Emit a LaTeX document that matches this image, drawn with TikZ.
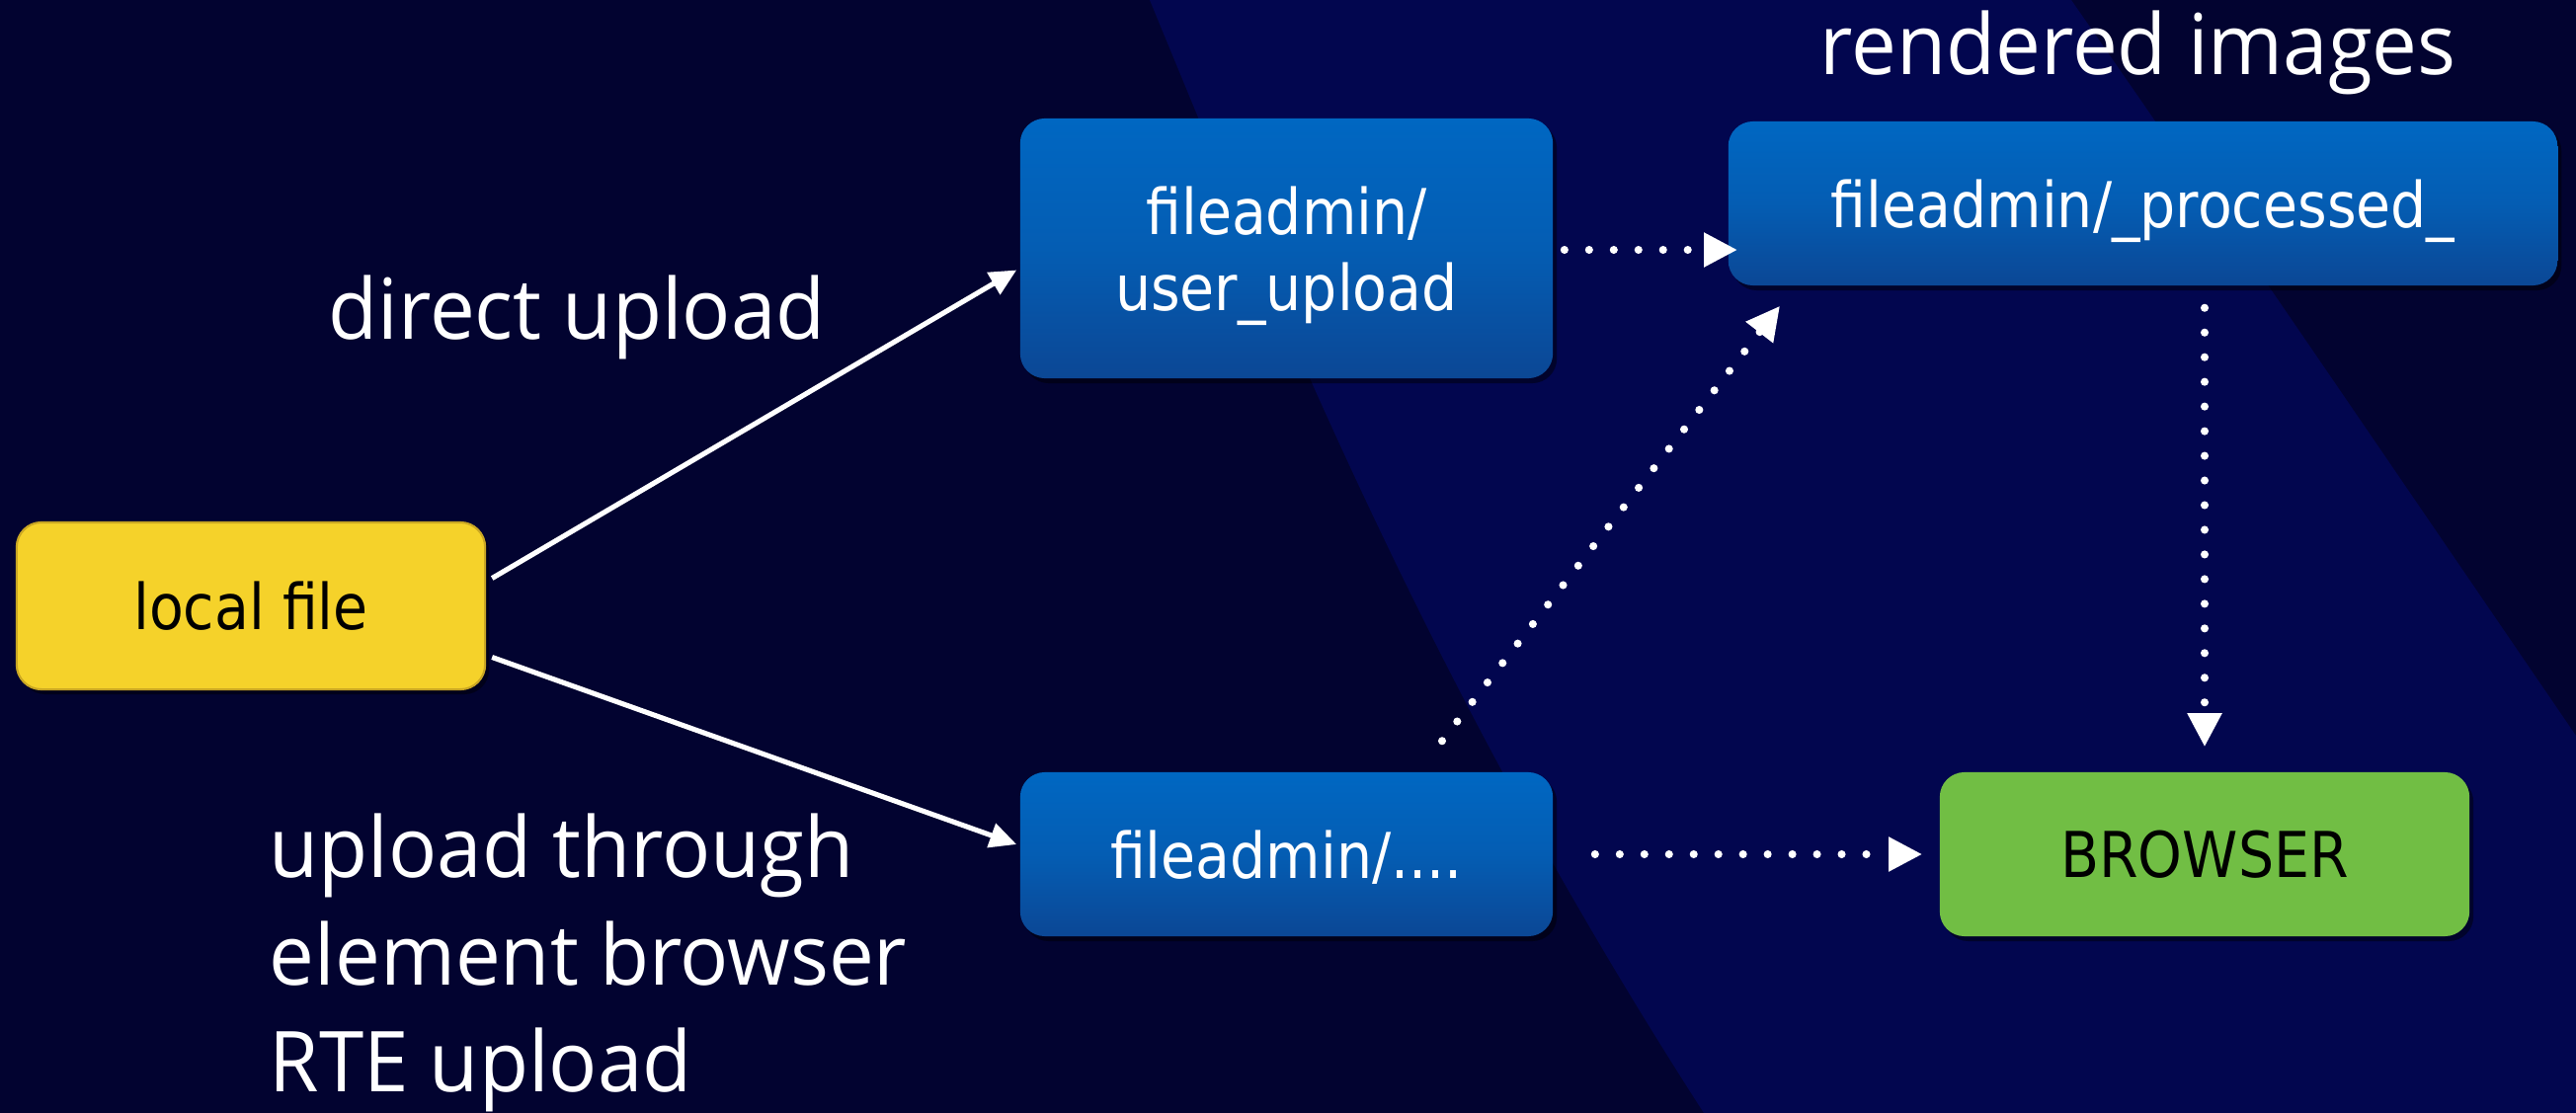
\documentclass[tikz,border=0pt]{standalone}
\usepackage{fontspec}
\newfontfamily\boxfont[FakeStretch=0.89]{DejaVu Sans}
\newfontfamily\labelfont[FakeStretch=0.96]{Open Sans}
\usetikzlibrary{arrows.meta,shadows,calc}
\definecolor{bgdark}{HTML}{020330}
\definecolor{bgband}{HTML}{02064F}
\definecolor{boxtop}{HTML}{0067C2}
\definecolor{boxmid}{HTML}{045DB3}
\definecolor{boxbot}{HTML}{0B4795}
\definecolor{yellowbox}{HTML}{F5D22A}
\definecolor{yellowedge}{HTML}{C9A623}
\definecolor{greenbox}{HTML}{71BE44}
\tikzset{
  basebox/.style={rounded corners=0.25cm, inner sep=0pt, align=center, text depth=0pt,
    font=\boxfont\fontsize{18.2}{21.9}\selectfont,
    drop shadow={shadow xshift=0.04cm, shadow yshift=-0.05cm, opacity=0.45, fill=black}},
  bluebox/.style={basebox, top color=boxtop, bottom color=boxbot, middle color=boxmid, text=white},
  yellowbox/.style={basebox, fill=yellowbox, draw=yellowedge, line width=0.6pt, text=black},
  greenbox/.style={basebox, fill=greenbox, text=black},
  lbl/.style={text=white, inner sep=0pt, font=\labelfont\fontsize{24.2}{30.7}\selectfont},
  solidarrow/.style={draw=white, line width=1.45pt, -{Triangle[length=0.27cm,width=0.25cm]}},
  dotarrow/.style={draw=white, line width=2.3pt, line cap=round, dash pattern=on 0pt off 7.1pt,
    -{Triangle[length=0.34cm,width=0.33cm]}}
}
\begin{document}
\begin{tikzpicture}[x=0.01cm,y=-0.01cm]
\useasboundingbox (0,0) rectangle (2608,1127);
% background
\fill[bgdark] (0,0) rectangle (2608,1127);
\fill[bgband] (1164,0) .. controls (1300,330) and (1450,700) .. (1725,1127)
  -- (2608,1127) -- (2608,745) .. controls (2420,470) and (2250,220) .. (2097,0) -- cycle;

% boxes
\node[yellowbox, minimum width=4.74cm, minimum height=1.69cm] (local) at (254,613.5) {local file};
\node[bluebox, minimum width=5.39cm, minimum height=2.63cm] (upload) at (1302.5,251.5) {fileadmin/\\user\_upload};
\node[bluebox, minimum width=8.39cm, minimum height=1.66cm] (processed) at (2169.5,206) {fileadmin/\_processed\_};
\node[bluebox, minimum width=5.39cm, minimum height=1.66cm] (dots) at (1302.5,865) {fileadmin/....};
\node[greenbox, minimum width=5.36cm, minimum height=1.66cm] (browser) at (2232,865) {BROWSER};

% labels
\node[lbl, anchor=base west] (ldirect) at (332,343) {direct upload};
\node[lbl, anchor=base west] (lrendered) at (1842,75) {rendered images};
\node[lbl, anchor=base west] (lthrough) at (272,888) {upload through};
\node[lbl, anchor=base west] (lelement) at (272,997) {element browser};
\node[lbl, anchor=base west] (lrte) at (272,1105) {RTE upload};

% connectors
\draw[solidarrow] ([shift={(6,-28)}]local.east) -- ([shift={(-3,22)}]upload.west);
\draw[solidarrow] ([shift={(6,52)}]local.east) -- ([shift={(-3,-10)}]dots.west);
\draw[dotarrow] ([shift={(11,1.5)}]upload.east) -- ([shift={(10,47)}]processed.west);
\draw[dotarrow] ([shift={(157.5,-31)}]dots.north) -- ([shift={(53,20)}]processed.south west);
\draw[dotarrow] ([shift={(0,22)}]browser.north |- processed.south) -- ([shift={(0,-25)}]browser.north);
\draw[dotarrow] ([shift={(42,0)}]dots.east) -- ([shift={(-17,0)}]browser.west);
\end{tikzpicture}
\end{document}
